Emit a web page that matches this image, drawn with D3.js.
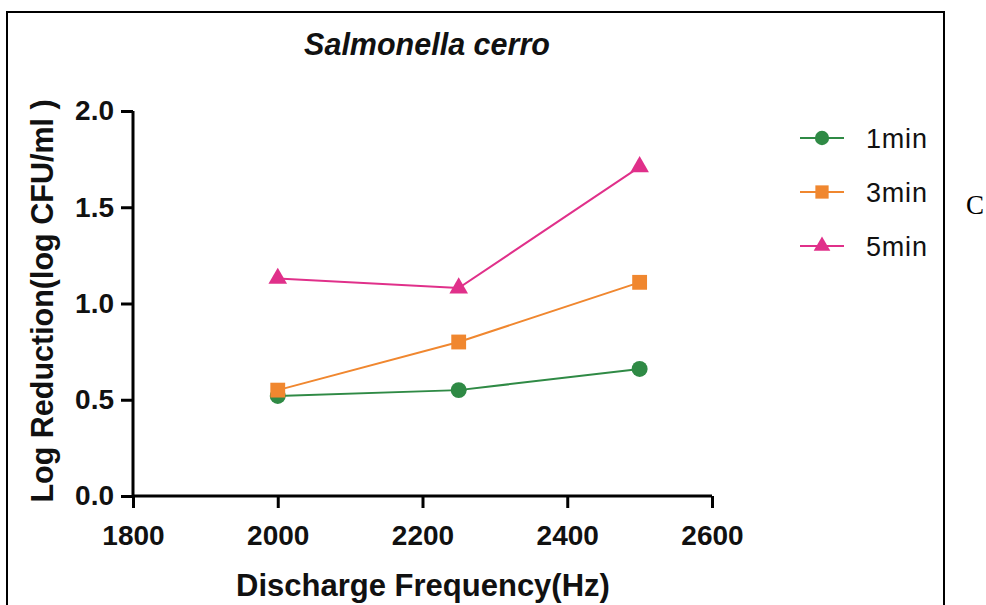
<!DOCTYPE html>
<html>
<head>
<meta charset="utf-8">
<script src="https://cdn.jsdelivr.net/npm/d3@7"></script>
<style>
  html, body { margin: 0; padding: 0; background: #fff; }
  svg { display: block; }
</style>
</head>
<body>
<script>
// Log reduction of Salmonella cerro vs discharge frequency, per treatment time
const frequencies = [2000, 2250, 2500];
const seriesNames = ["1min", "3min", "5min"];
const reduction1min = [0.52, 0.55, 0.66];
const reduction3min = [0.55, 0.80, 1.11];
const reduction5min = [1.13, 1.08, 1.71];
const xTicks = [1800, 2000, 2200, 2400, 2600];
const yTicks = [0.0, 0.5, 1.0, 1.5, 2.0];

const series = [
  { name: seriesNames[0], values: reduction1min, color: "#2f8a45", symbol: d3.symbolCircle, size: 200 },
  { name: seriesNames[1], values: reduction3min, color: "#f0872f", symbol: d3.symbolSquare, size: 220 },
  { name: seriesNames[2], values: reduction5min, color: "#e0308a", symbol: d3.symbolTriangle, size: 150 }
];

const W = 986, H = 605;
const svg = d3.select("body").append("svg").attr("width", W).attr("height", H);

// outer frame
svg.append("path")
  .attr("d", "M7,620 L7,12 L944,12 L944,620")
  .attr("fill", "none").attr("stroke", "#000").attr("stroke-width", 2);

const x = d3.scaleLinear().domain([1800, 2600]).range([133, 712]);
const y = d3.scaleLinear().domain([0, 2]).range([496, 111]);

const font = "'Liberation Sans', Arial, sans-serif";

// title
svg.append("text")
  .attr("x", 427).attr("y", 55)
  .attr("text-anchor", "middle")
  .attr("font-family", font).attr("font-weight", "bold").attr("font-style", "italic")
  .attr("font-size", 30.5).attr("fill", "#111")
  .text("Salmonella cerro");

// axes
const xAxis = svg.append("g").attr("transform", "translate(0,496)")
  .call(d3.axisBottom(x).tickValues(xTicks).tickFormat(d3.format("d")).tickSize(12).tickPadding(17).tickSizeOuter(0));
const yAxis = svg.append("g").attr("transform", "translate(133,0)")
  .call(d3.axisLeft(y).tickValues(yTicks).tickFormat(d3.format(".1f")).tickSize(12).tickPadding(7).tickSizeOuter(0));

[xAxis, yAxis].forEach(g => {
  g.select(".domain").attr("stroke", "#000").attr("stroke-width", 3);
  g.selectAll(".tick line").attr("stroke", "#000").attr("stroke-width", 3);
  g.selectAll(".tick text")
    .attr("font-family", font).attr("font-weight", "bold")
    .attr("font-size", 28).attr("fill", "#111");
});
xAxis.select(".domain").attr("d", `M${x(1800)},0H${x(2600)}`);
yAxis.select(".domain").attr("d", `M0,${y(2)}V${y(0)}`);

// axis titles
svg.append("text")
  .attr("x", 423).attr("y", 596)
  .attr("text-anchor", "middle")
  .attr("font-family", font).attr("font-weight", "bold")
  .attr("font-size", 31).attr("fill", "#111")
  .text("Discharge Frequency(Hz)");

svg.append("text")
  .attr("transform", "translate(53,301) rotate(-90)")
  .attr("text-anchor", "middle")
  .attr("font-family", font).attr("font-weight", "bold")
  .attr("font-size", 30.5).attr("fill", "#111")
  .text("Log Reduction(log CFU/ml )");

// lines and markers
const line = d3.line().x((d, i) => x(frequencies[i])).y(d => y(d));
series.forEach(s => {
  svg.append("path")
    .attr("d", line(s.values))
    .attr("fill", "none").attr("stroke", s.color).attr("stroke-width", 2);
  svg.selectAll(null).data(s.values).enter().append("path")
    .attr("transform", (d, i) => `translate(${x(frequencies[i])},${y(d)})`)
    .attr("d", d3.symbol().type(s.symbol).size(s.size))
    .attr("fill", s.color);
});

// legend
const legend = svg.append("g");
series.forEach((s, i) => {
  const ly = 138 + i * 54;
  legend.append("line")
    .attr("x1", 800).attr("x2", 844).attr("y1", ly).attr("y2", ly)
    .attr("stroke", s.color).attr("stroke-width", 2);
  legend.append("path")
    .attr("transform", `translate(822,${ly})`)
    .attr("d", d3.symbol().type(s.symbol).size(s.size * 0.8))
    .attr("fill", s.color);
  legend.append("text")
    .attr("x", 866).attr("y", ly + 9.5)
    .attr("font-family", font).attr("font-size", 27).attr("letter-spacing", 0.8).attr("fill", "#111")
    .text(s.name);
});

// panel letter
svg.append("text")
  .attr("x", 966).attr("y", 214)
  .attr("font-family", "'Liberation Serif', 'Times New Roman', serif")
  .attr("font-size", 27).attr("fill", "#000")
  .text("C");
</script>
</body>
</html>
